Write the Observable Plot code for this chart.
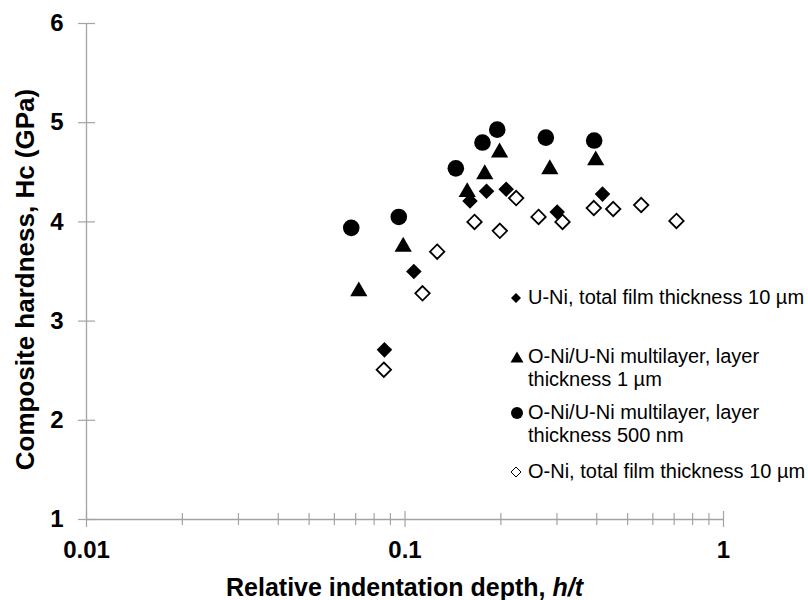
<!DOCTYPE html>
<html>
<head>
<meta charset="utf-8">
<script src="https://cdn.jsdelivr.net/npm/d3@7"></script>
<script src="https://cdn.jsdelivr.net/npm/@observablehq/plot@0.6"></script>
<style>
  html, body { margin: 0; padding: 0; background: #fff; }
  #wrap { position: relative; width: 808px; height: 600px; font-family: "Liberation Sans", Arial, sans-serif; }
  #legend { position: absolute; left: 510px; top: 0; font-size: 20px; color: #000; }
  .li { position: absolute; left: 0; white-space: nowrap; line-height: 23px; }
  .li svg { position: absolute; left: 0; top: 6px; }
  .li span { position: absolute; left: 18px; top: 0; }
  #xtitle { position: absolute; left: 86px; width: 637px; top: 573px; text-align: center; font-weight: bold; font-size: 25px; line-height: 28px; }
</style>
</head>
<body>
<div id="wrap"></div>
<script>
// ---- data ----
const uniX  = [0.0862, 0.1066, 0.160, 0.1803, 0.2078, 0.3005, 0.417];
const uniY  = [2.71, 3.50, 4.21, 4.31, 4.33, 4.10, 4.28];
const tri1X = [0.0716, 0.0987, 0.1568, 0.178, 0.1981, 0.2849, 0.397];
const tri1Y = [3.30, 3.75, 4.30, 4.48, 4.70, 4.53, 4.62];
const circX = [0.0678, 0.0956, 0.1444, 0.1751, 0.1948, 0.2768, 0.3926];
const circY = [3.94, 4.05, 4.54, 4.80, 4.93, 4.85, 4.82];
const oniX  = [0.0858, 0.1135, 0.1262, 0.1653, 0.1985, 0.2234, 0.2626, 0.3123, 0.3916, 0.4505, 0.5515, 0.7117];
const oniY  = [2.51, 3.28, 3.70, 4.00, 3.91, 4.24, 4.05, 4.00, 4.14, 4.13, 4.17, 4.01];

const seriesNames = [
  ["U-Ni, total film thickness 10 µm"],
  ["O-Ni/U-Ni multilayer, layer", "thickness 1 µm"],
  ["O-Ni/U-Ni multilayer, layer", "thickness 500 nm"],
  ["O-Ni, total film thickness 10 µm"]
];
const xMajorTicks = [0.01, 0.1, 1];
const xMinorTicks = [0.02,0.03,0.04,0.05,0.06,0.07,0.08,0.09,0.2,0.3,0.4,0.5,0.6,0.7,0.8,0.9];
const yTicks = [1, 2, 3, 4, 5, 6];
const xTitle = "Relative indentation depth, ";
const xTitleItalic = "h/t";
const yTitle = "Composite hardness, Hc (GPa)";

const zip = (xs, ys) => xs.map((x, i) => ({x, y: ys[i]}));
const uni = zip(uniX, uniY), tri = zip(tri1X, tri1Y), circ = zip(circX, circY), oni = zip(oniX, oniY);

const gray = "#a3a3a3";
const font = "'Liberation Sans', Arial, sans-serif";

const chart = Plot.plot({
  width: 808,
  height: 600,
  marginLeft: 86,
  marginRight: 85,
  marginTop: 23,
  marginBottom: 81,
  style: {fontFamily: font, background: "white", color: "black"},
  x: {type: "log", domain: [0.01, 1]},
  y: {domain: [1, 6]},
  marks: [
    Plot.ruleX([0.01], {stroke: gray, strokeWidth: 1.3}),
    Plot.ruleY([1], {stroke: gray, strokeWidth: 1.3}),
    Plot.ruleY(yTicks, {y: d => d, x1: () => 0.01, x2: () => 0.01, insetLeft: -8, insetRight: -9, stroke: gray, strokeWidth: 1.2}),
    Plot.ruleX(xMinorTicks, {x: d => d, y1: () => 1, y2: () => 1, insetTop: -6, insetBottom: -6, stroke: gray, strokeWidth: 1.2}),
    Plot.ruleX(xMajorTicks, {x: d => d, y1: () => 1, y2: () => 1, insetTop: -8, insetBottom: -8, stroke: gray, strokeWidth: 1.2}),
    Plot.axisY({ticks: yTicks, tickSize: 0, tickPadding: 23, fontSize: 24, fontWeight: "bold", label: null, tickFormat: d => String(d)}),
    Plot.axisX({ticks: xMajorTicks, tickSize: 0, tickPadding: 21, fontSize: 24, fontWeight: "bold", label: null, tickFormat: d => String(d)}),
    Plot.text([yTitle], {frameAnchor: "left", rotate: -90, dx: -61, dy: 8, fontSize: 26, fontWeight: "bold", textAnchor: "middle", lineAnchor: "middle"}),
    Plot.dot(uni, {x: "x", y: "y", symbol: "diamond2", r: 7, fill: "black", stroke: "none"}),
    Plot.dot(tri, {x: "x", y: "y", symbol: "triangle", r: 6.4, fill: "black", stroke: "none"}),
    Plot.dot(circ, {x: "x", y: "y", symbol: "circle", r: 8.3, fill: "black", stroke: "none"}),
    Plot.dot(oni, {x: "x", y: "y", symbol: "diamond2", r: 6.5, fill: "white", stroke: "black", strokeWidth: 1.8})
  ]
});

const wrap = document.getElementById("wrap");
wrap.appendChild(chart);

// x-axis title with italic part
const xt = document.createElement("div");
xt.id = "xtitle";
xt.appendChild(document.createTextNode(xTitle));
const it = document.createElement("i");
it.textContent = xTitleItalic;
xt.appendChild(it);
wrap.appendChild(xt);

// legend
const icons = [
  '<svg width="12" height="12"><path d="M6,1 L11,6 L6,11 L1,6 Z" fill="black"/></svg>',
  '<svg width="14" height="12"><path d="M7,0.5 L13.5,11.5 L0.5,11.5 Z" fill="black"/></svg>',
  '<svg width="14" height="14" style="top:5px"><circle cx="7" cy="7" r="6" fill="black"/></svg>',
  '<svg width="12" height="12"><path d="M6,1 L11,6 L6,11 L1,6 Z" fill="white" stroke="black" stroke-width="1"/></svg>'
];
const legendTops = [286, 345, 401, 460];
const legend = document.createElement("div");
legend.id = "legend";
seriesNames.forEach((lines, i) => {
  const row = document.createElement("div");
  row.className = "li";
  row.style.top = legendTops[i] + "px";
  row.innerHTML = icons[i] + "<span>" + lines.join("<br>") + "</span>";
  legend.appendChild(row);
});
wrap.appendChild(legend);
</script>
</body>
</html>
